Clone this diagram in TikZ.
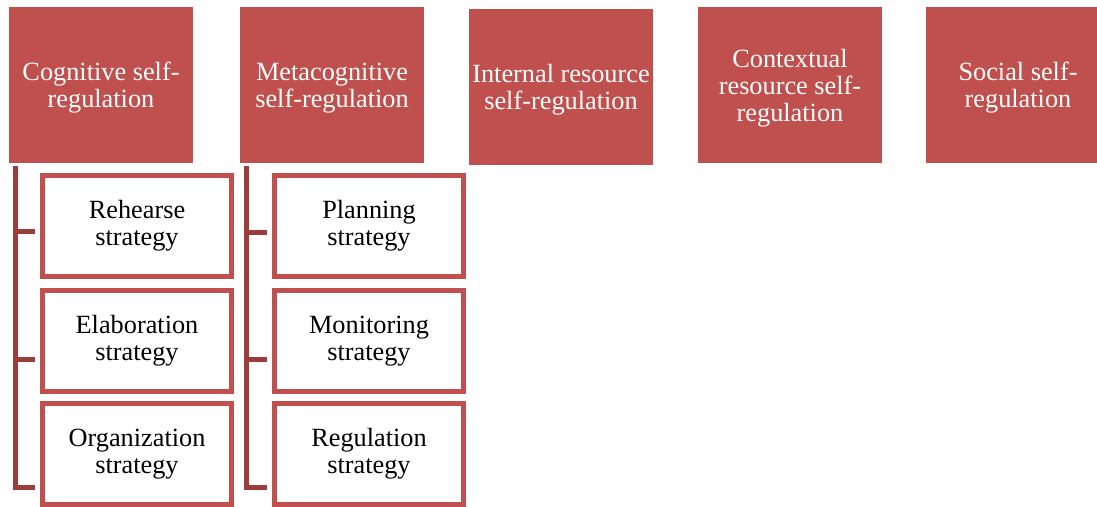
\documentclass[tikz,border=0pt]{standalone}
\usepackage{fontspec}
\setmainfont{Liberation Serif}
\definecolor{boxred}{HTML}{C0504D}
\definecolor{linkred}{HTML}{9B3D3B}
\newcommand{\lift}{\rule{0pt}{17.3pt}}
\begin{document}
\begin{tikzpicture}[x=0.025cm, y=-0.025cm,
	top/.style={fill=boxred, text=white, minimum width=4.6cm, minimum height=3.9cm, inner sep=0pt, align=center, font=\fontsize{18.7}{19.2}\selectfont},
	sub/.style={draw=boxred, line width=0.125cm, fill=white, minimum width=4.725cm, minimum height=2.525cm, inner sep=0pt, align=center, font=\fontsize{18.7}{19.2}\selectfont},
	link/.style={draw=linkred, line width=0.125cm}]
	\useasboundingbox (0,0) rectangle (1097,506);
	\clip (0,0) rectangle (1097,506);
	\node [top] (cog)  at (101,85)  {\lift Cognitive self-\\regulation};
	\node [top] (meta) at (332,85)  {\lift Metacognitive\\self-regulation};
	\node [top] (intl) at (561,87)  {\lift Internal resource\\self-regulation};
	\node [top] (ctx)  at (790,85)  {\lift Contextual\\resource self-\\regulation};
	\node [top] (soc)  at (1018,85) {\lift Social self-\\regulation};
	\node [sub] (reh)  at (137,226) {Rehearse\\strategy};
	\node [sub] (ela)  at (137,341) {Elaboration\\strategy};
	\node [sub] (org)  at (137,454) {Organization\\strategy};
	\node [sub] (plan) at (369,226) {Planning\\strategy};
	\node [sub] (mon)  at (369,341) {Monitoring\\strategy};
	\node [sub] (reg)  at (369,454) {Regulation\\strategy};
	\draw [link] ([shift={(7,3)}]cog.south west) |- ([shift={(-5,5)}]reh.west);
	\draw [link] ([shift={(7,3)}]cog.south west) |- ([shift={(-5,18)}]ela.west);
	\draw [link] ([shift={(7,3)}]cog.south west) |- ([shift={(-5,33)}]org.west);
	\draw [link] ([shift={(7,3)}]meta.south west) |- ([shift={(-5,6)}]plan.west);
	\draw [link] ([shift={(7,3)}]meta.south west) |- ([shift={(-5,18)}]mon.west);
	\draw [link] ([shift={(7,3)}]meta.south west) |- ([shift={(-5,33)}]reg.west);
\end{tikzpicture}
\end{document}
